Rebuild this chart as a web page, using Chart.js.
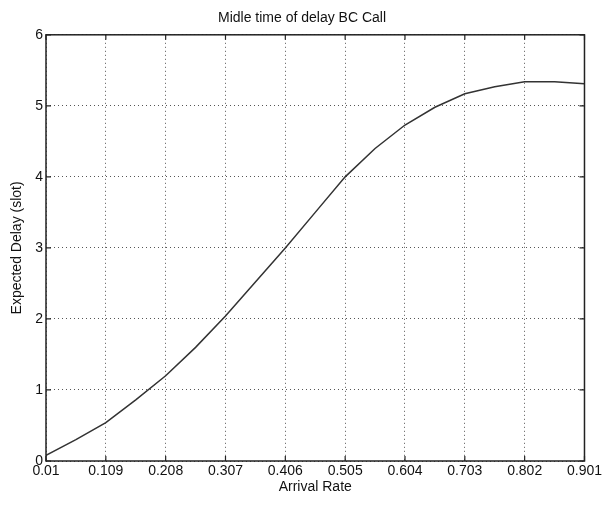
<!DOCTYPE html>
<html>
<head>
<meta charset="utf-8">
<script src="https://cdn.jsdelivr.net/npm/chart.js@4"></script>
<style>
  html, body { margin: 0; padding: 0; background: #fff; }
  #wrap { width: 604px; height: 505px; }
</style>
</head>
<body>
<div id="wrap"><canvas id="delayChart" width="604" height="505"></canvas></div>
<script>
// Data
const arrivalRate = [0.01, 0.0595, 0.109, 0.1585, 0.208, 0.2575, 0.307, 0.3565, 0.406, 0.4555,
  0.505, 0.5545, 0.604, 0.6535, 0.703, 0.7525, 0.802, 0.8515, 0.901];
const expectedDelay = [0.08, 0.3, 0.54, 0.86, 1.2, 1.6, 2.04, 2.52, 3.0, 3.5,
  4.0, 4.4, 4.73, 4.98, 5.17, 5.27, 5.34, 5.34, 5.31];
const xTicks = [0.01, 0.109, 0.208, 0.307, 0.406, 0.505, 0.604, 0.703, 0.802, 0.901];
const yTicks = [0, 1, 2, 3, 4, 5, 6];

const FONT = "'Liberation Sans', Arial, sans-serif";

// Box round the plot plus small inward tick marks (matlab style)
const boxPlugin = {
  id: "box",
  afterDatasetsDraw(chart) {
    const { ctx, chartArea: a, scales } = chart;
    ctx.save();
    ctx.strokeStyle = "#222";
    ctx.lineWidth = 1.5;
    ctx.setLineDash([]);
    ctx.strokeRect(a.left, a.top, a.right - a.left, a.bottom - a.top);
    ctx.lineWidth = 1.2;
    ctx.beginPath();
    xTicks.forEach(v => {
      const x = scales.x.getPixelForValue(v);
      ctx.moveTo(x, a.bottom); ctx.lineTo(x, a.bottom - 5);
      ctx.moveTo(x, a.top); ctx.lineTo(x, a.top + 5);
    });
    yTicks.forEach(v => {
      const y = scales.y.getPixelForValue(v);
      ctx.moveTo(a.left, y); ctx.lineTo(a.left + 5, y);
      ctx.moveTo(a.right, y); ctx.lineTo(a.right - 5, y);
    });
    ctx.stroke();
    ctx.restore();
  }
};

const ctx = document.getElementById("delayChart").getContext("2d");
new Chart(ctx, {
  type: "line",
  data: {
    datasets: [{
      data: arrivalRate.map((x, i) => ({ x: x, y: expectedDelay[i] })),
      borderColor: "#333",
      borderWidth: 1.5,
      pointRadius: 0,
      tension: 0,
      fill: false,
    }],
  },
  options: {
    responsive: false,
    animation: false,
    layout: { padding: { left: 0, right: 0, top: 0, bottom: 0 } },
    plugins: {
      legend: { display: false },
      tooltip: { enabled: false },
      title: {
        display: true,
        text: "Midle time of delay BC Call",
        color: "#111",
        font: { family: FONT, size: 14, weight: "normal" },
        padding: { top: 10, bottom: 8 },
      },
    },
    scales: {
      x: {
        type: "linear",
        min: 0.01,
        max: 0.901,
        afterBuildTicks: scale => { scale.ticks = xTicks.map(v => ({ value: v })); },
        afterFit: scale => { scale.height = 44; },
        ticks: {
          color: "#111",
          font: { family: FONT, size: 14 },
          padding: 2,
          maxRotation: 0,
          autoSkip: false,
          callback: v => String(v),
        },
        grid: { color: "#555", lineWidth: 1, drawTicks: false },
        border: { display: false, dash: [1, 3] },
        title: {
          display: true,
          text: "Arrival Rate",
          color: "#111",
          font: { family: FONT, size: 14 },
          padding: { top: 2, bottom: 9 },
        },
      },
      y: {
        min: 0,
        max: 6,
        afterBuildTicks: scale => { scale.ticks = yTicks.map(v => ({ value: v })); },
        afterFit: scale => { scale.width = 46; },
        ticks: {
          color: "#111",
          font: { family: FONT, size: 14 },
          padding: 3,
          callback: v => String(v),
        },
        grid: { color: "#555", lineWidth: 1, drawTicks: false },
        border: { display: false, dash: [1, 3] },
        title: {
          display: true,
          text: "Expected Delay (slot)",
          color: "#111",
          font: { family: FONT, size: 14 },
          padding: { top: 9, bottom: 2 },
        },
      },
    },
  },
  plugins: [boxPlugin],
});
</script>
</body>
</html>
